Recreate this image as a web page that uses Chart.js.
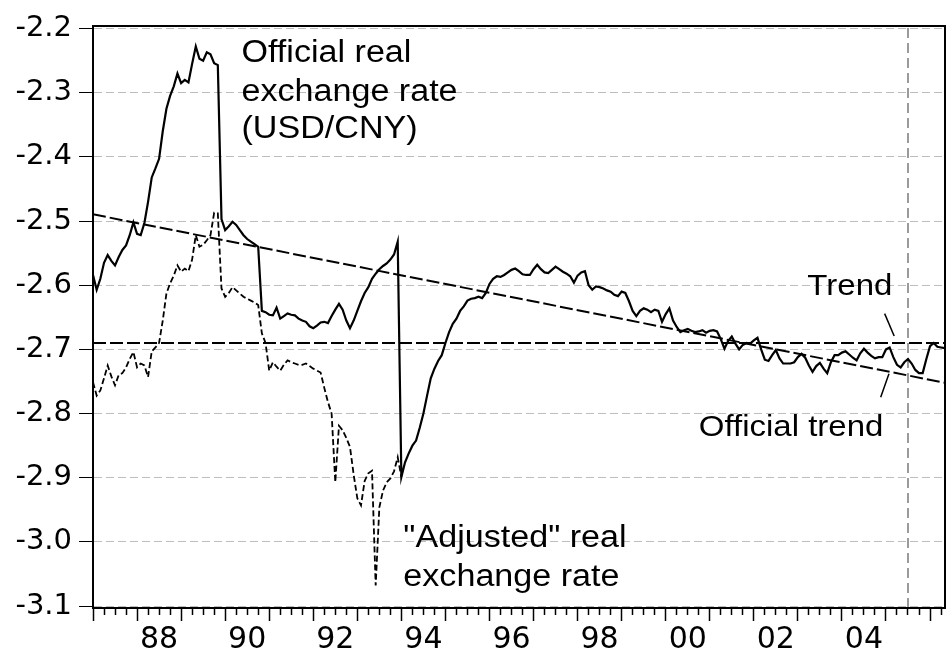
<!DOCTYPE html>
<html>
<head>
<meta charset="utf-8">
<script src="https://cdn.jsdelivr.net/npm/chart.js@4.4.1/dist/chart.umd.min.js"></script>
<style>
  html, body { margin: 0; padding: 0; background: #fff; }
  #wrap { width: 948px; height: 661px; }
</style>
</head>
<body>
<div id="wrap"><canvas id="rer-chart"></canvas></div>
<script>
// monthly log real exchange rate, first obs 1987M01
const startYear = 1987;

const officialRate = [
  -2.584, -2.607, -2.590, -2.565, -2.553, -2.562, -2.569, -2.556, -2.545, -2.538, -2.522, -2.502, // 1987
  -2.520, -2.522, -2.503, -2.470, -2.432, -2.418, -2.403, -2.360, -2.325, -2.305, -2.290, -2.270, // 1988
  -2.285, -2.280, -2.284, -2.255, -2.228, -2.247, -2.250, -2.237, -2.240, -2.254, -2.257, -2.497, // 1989
  -2.514, -2.508, -2.501, -2.506, -2.514, -2.522, -2.528, -2.532, -2.536, -2.540, -2.640, -2.642, // 1990
  -2.646, -2.647, -2.635, -2.652, -2.648, -2.644, -2.646, -2.647, -2.652, -2.655, -2.657, -2.664, // 1991
  -2.667, -2.663, -2.658, -2.657, -2.659, -2.648, -2.638, -2.629, -2.638, -2.655, -2.667, -2.655, // 1992
  -2.640, -2.625, -2.612, -2.603, -2.590, -2.582, -2.575, -2.570, -2.566, -2.560, -2.552, -2.532, // 1993
  -2.899, -2.876, -2.862, -2.850, -2.842, -2.822, -2.800, -2.772, -2.745, -2.730, -2.718, -2.709, // 1994
  -2.690, -2.673, -2.660, -2.652, -2.640, -2.633, -2.624, -2.621, -2.620, -2.618, -2.620, -2.612, // 1995
  -2.598, -2.590, -2.586, -2.587, -2.584, -2.580, -2.576, -2.574, -2.578, -2.583, -2.584, -2.584, // 1996
  -2.575, -2.568, -2.575, -2.580, -2.581, -2.576, -2.571, -2.575, -2.579, -2.582, -2.586, -2.596, // 1997
  -2.585, -2.580, -2.578, -2.600, -2.607, -2.602, -2.603, -2.605, -2.608, -2.610, -2.615, -2.617, // 1998
  -2.610, -2.612, -2.625, -2.640, -2.648, -2.640, -2.636, -2.638, -2.642, -2.638, -2.640, -2.657, // 1999
  -2.645, -2.636, -2.655, -2.665, -2.673, -2.670, -2.668, -2.671, -2.673, -2.672, -2.670, -2.674, // 2000
  -2.671, -2.670, -2.672, -2.684, -2.699, -2.687, -2.680, -2.691, -2.700, -2.693, -2.690, -2.691, // 2001
  -2.686, -2.682, -2.700, -2.716, -2.718, -2.709, -2.701, -2.714, -2.722, -2.722, -2.722, -2.720, // 2002
  -2.712, -2.707, -2.713, -2.725, -2.735, -2.726, -2.721, -2.730, -2.737, -2.720, -2.709, -2.709, // 2003
  -2.705, -2.703, -2.708, -2.713, -2.717, -2.706, -2.699, -2.705, -2.710, -2.714, -2.712, -2.712, // 2004
  -2.700, -2.697, -2.712, -2.724, -2.728, -2.720, -2.715, -2.722, -2.732, -2.737, -2.737, -2.715, // 2005
  -2.695, -2.690, -2.696, -2.697, -2.698                                                          // 2006
];

// "adjusted" rate, only differs from the official one until the 1994 unification
const adjustedRate = [
  -2.751, -2.772, -2.764, -2.745, -2.725, -2.742, -2.756, -2.740, -2.737, -2.728, -2.715, -2.704, // 1987
  -2.728, -2.722, -2.725, -2.743, -2.703, -2.697, -2.690, -2.655, -2.613, -2.597, -2.585, -2.569, // 1988
  -2.579, -2.574, -2.578, -2.560, -2.522, -2.540, -2.537, -2.530, -2.522, -2.487, -2.488, -2.605, // 1989
  -2.618, -2.612, -2.603, -2.608, -2.613, -2.618, -2.621, -2.624, -2.627, -2.631, -2.675, -2.690, // 1990
  -2.733, -2.720, -2.727, -2.733, -2.724, -2.717, -2.720, -2.722, -2.724, -2.724, -2.722, -2.726, // 1991
  -2.730, -2.733, -2.736, -2.760, -2.782, -2.800, -2.907, -2.819, -2.826, -2.838, -2.852, -2.895, // 1992
  -2.932, -2.943, -2.905, -2.893, -2.889, -3.068, -2.946, -2.920, -2.907, -2.901, -2.890, -2.868, // 1993
  -2.899                                                                                          // 1994
];

const trendLevel = -2.69;
const officialTrendEnds = [-2.4895, -2.752];
const revaluationDate = 2005.5;

const xRange = [1987, 2006.34];
const yRange = [-3.103, -2.196];
const yTicks = [-3.1, -3.0, -2.9, -2.8, -2.7, -2.6, -2.5, -2.4, -2.3, -2.2];
const xTickLabels = ['88', '90', '92', '94', '96', '98', '00', '02', '04'];
const xLabelPositions = [1988.5, 1990.5, 1992.5, 1994.5, 1996.5, 1998.5, 2000.5, 2002.5, 2004.5];

const notes = [
  { text: 'Official real', x: 1990.37, y: -2.2515, size: 31, align: 'left' },
  { text: 'exchange rate', x: 1990.37, y: -2.3128, size: 31, align: 'left' },
  { text: '(USD/CNY)', x: 1990.37, y: -2.371, size: 31, align: 'left' },
  { text: '"Adjusted" real', x: 1994.045, y: -3.0085, size: 31, align: 'left' },
  { text: 'exchange rate', x: 1994.045, y: -3.0683, size: 31, align: 'left' },
  { text: 'Trend', x: 2005.145, y: -2.6157, size: 30, align: 'right' },
  { text: 'Official trend', x: 2000.75, y: -2.8342, size: 30, align: 'left' }
];
const pointers = [
  [[2004.97, -2.6442], [2005.186, -2.6791]],
  [[2005.068, -2.7379], [2004.88, -2.7744]]
];

function toPoints(values) {
  return values.map((v, i) => ({ x: startYear + i / 12, y: v }));
}

const quarterTicks = [];
for (let q = 0; startYear + q / 4 <= xRange[1]; q++) {
  quarterTicks.push({ value: startYear + q / 4 });
}

const notesPlugin = {
  id: 'notes',
  afterDatasetsDraw(chart) {
    const { ctx, chartArea, scales } = chart;
    const xs = scales.x, ys = scales.y;
    ctx.save();
    ctx.strokeStyle = '#000';
    ctx.lineWidth = 2;
    ctx.strokeRect(chartArea.left, chartArea.top, chartArea.right - chartArea.left, chartArea.bottom - chartArea.top);

    ctx.lineWidth = 1.5;
    pointers.forEach(([a, b]) => {
      ctx.beginPath();
      ctx.moveTo(xs.getPixelForValue(a[0]), ys.getPixelForValue(a[1]));
      ctx.lineTo(xs.getPixelForValue(b[0]), ys.getPixelForValue(b[1]));
      ctx.stroke();
    });

    ctx.fillStyle = '#000';
    ctx.textBaseline = 'alphabetic';
    notes.forEach(n => {
      ctx.save();
      ctx.translate(xs.getPixelForValue(n.x), ys.getPixelForValue(n.y));
      ctx.scale(1.1, 1);
      ctx.font = n.size + 'px "Liberation Sans", Arial, sans-serif';
      ctx.textAlign = n.align;
      ctx.fillText(n.text, 0, 0);
      ctx.restore();
    });
    ctx.restore();
  }
};

const ctx = document.getElementById('rer-chart').getContext('2d');

new Chart(ctx, {
  type: 'line',
  data: {
    datasets: [
      {
        label: 'Official real exchange rate',
        data: toPoints(officialRate),
        borderColor: '#000',
        borderWidth: 2.2,
        pointRadius: 0,
        order: 1
      },
      {
        label: 'Adjusted real exchange rate',
        data: toPoints(adjustedRate),
        borderColor: '#000',
        borderWidth: 1.8,
        borderDash: [6, 3],
        pointRadius: 0,
        order: 2
      },
      {
        label: 'Official trend',
        data: [{ x: xRange[0], y: officialTrendEnds[0] }, { x: xRange[1], y: officialTrendEnds[1] }],
        borderColor: '#000',
        borderWidth: 2,
        borderDash: [13, 4],
        pointRadius: 0,
        order: 3
      },
      {
        label: 'Trend',
        data: [{ x: xRange[0], y: trendLevel }, { x: xRange[1], y: trendLevel }],
        borderColor: '#000',
        borderWidth: 2,
        borderDash: [13, 4],
        pointRadius: 0,
        order: 4
      },
      {
        label: 'Revaluation',
        data: [{ x: revaluationDate, y: yRange[0] }, { x: revaluationDate, y: yRange[1] }],
        borderColor: '#7a7a7a',
        borderWidth: 1.5,
        borderDash: [10, 5],
        pointRadius: 0,
        order: 5
      }
    ]
  },
  options: {
    responsive: true,
    maintainAspectRatio: false,
    animation: false,
    layout: {
      padding: { top: 26, right: 3, bottom: 0, left: 0 }
    },
    plugins: {
      legend: { display: false },
      tooltip: { enabled: false }
    },
    scales: {
      x: {
        type: 'linear',
        min: xRange[0],
        max: xRange[1],
        afterBuildTicks: (scale) => { scale.ticks = quarterTicks.map(t => ({ value: t.value })); },
        afterFit: (scale) => { scale.height = 53; },
        ticks: {
          autoSkip: false,
          maxRotation: 0,
          minRotation: 0,
          padding: 1,
          color: '#000',
          font: { family: 'DejaVu Sans', size: 30 },
          callback: (value) => {
            const k = xLabelPositions.indexOf(value);
            return k >= 0 ? xTickLabels[k] : '';
          }
        },
        grid: {
          drawOnChartArea: false,
          tickLength: 13,
          tickColor: '#000',
          tickWidth: 1.5,
          tickBorderDash: (c) => (c.tick && Number.isInteger(c.tick.value)) ? [] : [6, 40]
        },
        border: { display: true, color: '#000', width: 2 }
      },
      y: {
        min: yRange[0],
        max: yRange[1],
        afterBuildTicks: (scale) => { scale.ticks = yTicks.map(v => ({ value: v })); },
        afterFit: (scale) => { scale.width = 93; },
        ticks: {
          padding: 7,
          color: '#000',
          font: { family: 'DejaVu Sans', size: 29 },
          callback: (value) => value.toFixed(1)
        },
        grid: {
          color: '#bdbdbd',
          lineWidth: 1,
          tickLength: 14,
          tickColor: '#000',
          tickWidth: 1
        },
        border: { display: true, color: '#000', width: 2, dash: [8, 4] }
      }
    }
  },
  plugins: [notesPlugin]
});
</script>
</body>
</html>
